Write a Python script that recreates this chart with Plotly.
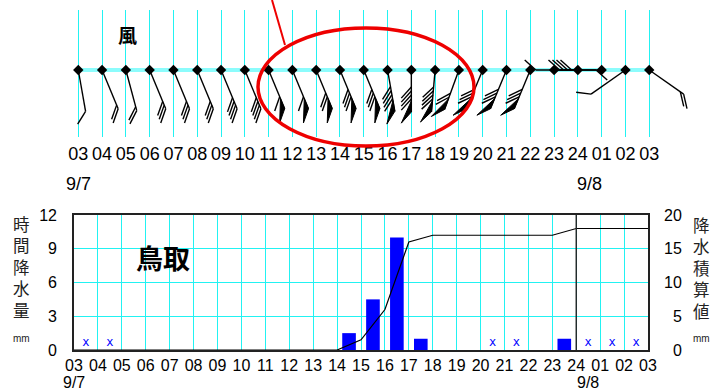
import numpy as np
import plotly.graph_objects as go

W, H = 720, 390

# ---- data -------------------------------------------------------------
hour_labels = ["03", "04", "05", "06", "07", "08", "09", "10", "11", "12",
               "13", "14", "15", "16", "17", "18", "19", "20", "21", "22",
               "23", "24", "01", "02", "03"]
date_labels = ["9/7", "9/8"]

# hourly precipitation (mm) for the 24 intervals 03-04 ... 02-03
rain = [0, 0, 0, 0, 0, 0, 0, 0, 0, 0, 0,
        1.5, 4.5, 10.0, 1.0, 0, 0, 0, 0, 0,
        1.0, 0, 0, 0]
# intervals marked with an "x"
rain_flag = [1, 1, 0, 0, 0, 0, 0, 0, 0, 0, 0, 0,
             0, 0, 0, 0, 0, 1, 1, 0, 0, 1, 1, 1]

# wind at each hour mark: direction the wind comes from (deg) and speed (m/s)
wind_dir = [170, 157.5, 165, 157.5, 157.5, 157.5, 157.5, 157.5, 157.5, 157.5,
            157.5, 157.5, 157.5, 170, 180, 185, 200, 202.5, 202.5, 202.5,
            90, 270, 270, 235, 125]
wind_speed = [1, 2, 2, 3, 3, 3, 4, 4, 6, 6,
              7, 8, 8, 9, 9, 9, 7, 8, 8, 8,
              1, 1, 4, 1, 2]

rain_ticks = [0, 3, 6, 9, 12]
cum_ticks = [0, 5, 10, 15, 20]
left_title = "時間降水量"
right_title = "降水積算値"

# ---- helpers ----------------------------------------------------------
def px(v):
    return v / W

def py(v):
    return 1 - v / H

NUM_FONT = "Liberation Sans"
CJK_FONT = "Noto Sans CJK JP"
CYAN = "#22f2f2"

fig = go.Figure()

# ---- rainfall panel ---------------------------------------------------
n = len(rain)
centers = np.arange(n) + 0.5
fig.add_trace(go.Bar(x=centers, y=rain, width=0.57, marker_color="#0000ff",
                     marker_line_width=0, xaxis="x", yaxis="y",
                     showlegend=False, hoverinfo="skip"))

flag_x = [c for c, f in zip(centers, rain_flag) if f]
fig.add_trace(go.Scatter(x=flag_x, y=[0.6] * len(flag_x), mode="text",
                         text=["x"] * len(flag_x),
                         textfont=dict(family="DejaVu Sans Mono", size=12, color="#0000ff"),
                         xaxis="x", yaxis="y", showlegend=False, hoverinfo="skip"))

cum = np.concatenate([[0.0], np.cumsum(rain)])
fig.add_trace(go.Scatter(x=np.arange(n + 1), y=cum, mode="lines",
                         line=dict(color="black", width=1.2),
                         xaxis="x", yaxis="y2", showlegend=False, hoverinfo="skip"))

# ---- wind panel -------------------------------------------------------
TOP_L, TOP_R = 66.4, 696.8       # px extent of the wind x axis
top_range = [-0.5, 26.0]
hr_px = (TOP_R - TOP_L) / (top_range[1] - top_range[0])
STATION_Y = 67
STAFF = 42
FEATHER = 15
GAP = 4
PENNANT = 11
ANG = np.deg2rad(42)

bx, by = [], []
tx, ty = [], []
for i, (d, s) in enumerate(zip(wind_dir, wind_speed)):
    b = np.deg2rad(d)
    u = np.array([np.sin(b), -np.cos(b)])          # screen coords, y down
    th = np.arctan2(u[1], u[0]) + ANG
    f = np.array([np.cos(th), np.sin(th)])
    st = np.array([0.0, 0.0])
    tip = st + STAFF * u

    def to_data(p):
        return i + p[0] / hr_px, STATION_Y - p[1]

    for p in (st, tip):
        x, y = to_data(p)
        bx.append(x); by.append(y)
    bx.append(None); by.append(None)

    npen, nfeat = divmod(int(s), 5)
    pos = tip.copy()
    for _ in range(npen):
        a = pos - PENNANT * u
        c = pos + FEATHER * f
        for p in (a, pos, c, a):
            x, y = to_data(p)
            tx.append(x); ty.append(y)
        tx.append(None); ty.append(None)
        pos = a - 2 * u
    for _ in range(nfeat):
        for p in (pos, pos + FEATHER * f):
            x, y = to_data(p)
            bx.append(x); by.append(y)
        bx.append(None); by.append(None)
        pos = pos - GAP * u

hours = np.arange(len(hour_labels))
fig.add_trace(go.Scatter(x=[0, 24], y=[STATION_Y, STATION_Y], mode="lines",
                         line=dict(color="#8cfcfc", width=4),
                         xaxis="x3", yaxis="y3", showlegend=False, hoverinfo="skip"))
fig.add_trace(go.Scatter(x=bx, y=by, mode="lines", line=dict(color="black", width=1.4),
                         xaxis="x3", yaxis="y3", showlegend=False, hoverinfo="skip"))
fig.add_trace(go.Scatter(x=tx, y=ty, mode="lines", fill="toself", fillcolor="black",
                         line=dict(color="black", width=1),
                         xaxis="x3", yaxis="y3", showlegend=False, hoverinfo="skip"))
fig.add_trace(go.Scatter(x=hours, y=[STATION_Y] * len(hours), mode="markers",
                         marker=dict(symbol="diamond", size=8, color="black"),
                         xaxis="x3", yaxis="y3", showlegend=False, hoverinfo="skip"))

# ---- axes -------------------------------------------------------------
tick_font = dict(family=NUM_FONT, size=16, color="black")
top_font = dict(family=NUM_FONT, size=18, color="black")
fig.update_layout(
    width=W, height=H, margin=dict(l=0, r=0, t=0, b=0, autoexpand=False),
    paper_bgcolor="white", plot_bgcolor="white", showlegend=False,
    xaxis=dict(domain=[px(74), px(648)], range=[0, 24], tickvals=list(hours),
               ticktext=hour_labels, showgrid=True, gridcolor=CYAN, gridwidth=1,
               showline=True, linecolor="#222", linewidth=1.6, mirror=True,
               zeroline=False, ticks="", tickfont=tick_font, tickangle=0,
               ticklabelstandoff=0, anchor="y"),
    yaxis=dict(domain=[py(350), py(215)], range=[0, 12], tickvals=rain_ticks,
               showgrid=True, gridcolor=CYAN, gridwidth=1, showline=True,
               linecolor="#222", linewidth=1.6, mirror=True, zeroline=False,
               ticks="", tickfont=tick_font, ticklabelstandoff=12, anchor="x"),
    yaxis2=dict(overlaying="y", side="right", range=[0, 20], showgrid=False,
                showticklabels=False, zeroline=False, showline=False, anchor="x"),
    xaxis3=dict(domain=[px(TOP_L), px(TOP_R)], range=top_range, tickvals=list(hours),
                ticktext=hour_labels, showgrid=True, gridcolor=CYAN, gridwidth=1,
                showline=False, zeroline=False, ticks="", tickangle=0,
                tickfont=top_font, ticklabelstandoff=4, anchor="y3"),
    yaxis3=dict(domain=[py(137), py(10)], range=[0, 127], visible=False,
                anchor="x3"),
)

shapes = [
    dict(type="line", xref="x", yref="y domain", x0=21, x1=21, y0=0, y1=1,
         line=dict(color="#222", width=1.4)),
    dict(type="circle", xref="paper", yref="paper", x0=px(258), x1=px(474),
         y0=py(146), y1=py(28), line=dict(color="#ee0000", width=3.5)),
    dict(type="line", xref="paper", yref="paper", x0=px(272), y0=py(0),
         x1=px(285), y1=py(45), line=dict(color="#ee0000", width=2)),
]
fig.update_layout(shapes=shapes)

ann = []
# right-hand (cumulative) tick labels
for t in cum_ticks:
    ann.append(dict(x=px(684), y=t, xref="paper", yref="y2", text=str(t),
                    showarrow=False, xanchor="right", yanchor="middle",
                    font=tick_font))
# vertical axis titles, one character per line
title_font = dict(family=CJK_FONT, size=16.5, color="#222")
ann.append(dict(x=px(21), y=py(267), xref="paper", yref="paper",
                text="<br>".join(left_title), showarrow=False,
                xanchor="center", yanchor="middle", font=title_font))
ann.append(dict(x=px(701), y=py(268), xref="paper", yref="paper",
                text="<br>".join(right_title), showarrow=False,
                xanchor="center", yanchor="middle", font=title_font))
for xx in (21, 701):
    ann.append(dict(x=px(xx), y=py(338), xref="paper", yref="paper", text="mm",
                    showarrow=False, xanchor="center", yanchor="middle",
                    font=dict(family=NUM_FONT, size=10, color="#222")))
# date labels
for lbl, xd in zip(date_labels, (0, 21.5)):
    ann.append(dict(x=xd, y=py(382), xref="x", yref="paper", text=lbl,
                    showarrow=False, xanchor="center", yanchor="middle",
                    font=tick_font))
    ann.append(dict(x=xd, y=py(184), xref="x3", yref="paper", text=lbl,
                    showarrow=False, xanchor="center", yanchor="middle",
                    font=top_font))
# panel titles
ann.append(dict(x=px(163), y=py(257), xref="paper", yref="paper", text="<b>鳥取</b>",
                showarrow=False, xanchor="center", yanchor="middle",
                font=dict(family=CJK_FONT, size=27, color="black")))
ann.append(dict(x=px(127), y=py(34), xref="paper", yref="paper", text="<b>風</b>",
                showarrow=False, xanchor="center", yanchor="middle",
                font=dict(family=CJK_FONT, size=19, color="black")))
fig.update_layout(annotations=ann)

fig.write_html("out.html", config={"responsive": False},
               post_script="document.body.style.margin='0';")
